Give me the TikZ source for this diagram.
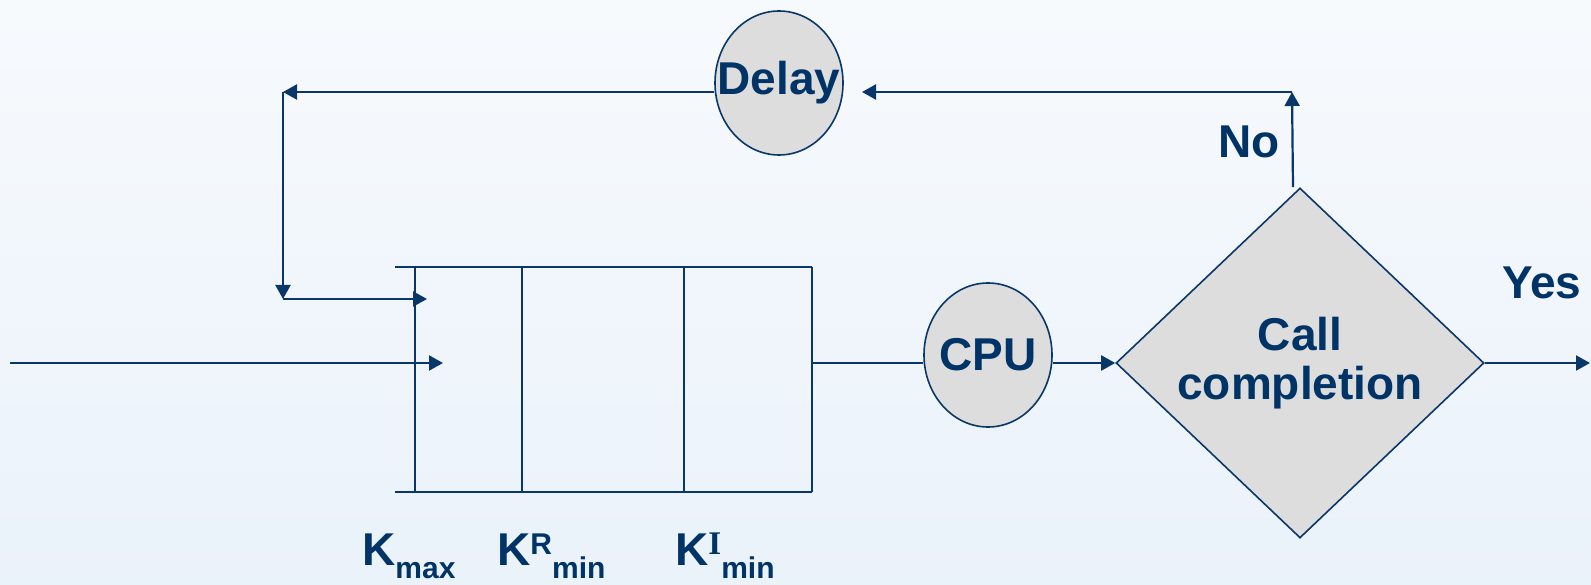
\documentclass[tikz,border=0pt]{standalone}
\usepackage{fontspec}
\setmainfont{Liberation Sans}
\newfontfamily\serifb{Liberation Serif}
\usetikzlibrary{arrows.meta,shapes.geometric,calc}
\definecolor{navy}{RGB}{0,51,102}
\definecolor{linec}{RGB}{10,55,105}
\definecolor{boxfill}{RGB}{221,221,221}
\definecolor{bgtop}{RGB}{247,250,253}
\definecolor{bgbot}{RGB}{234,242,250}
\tikzset{
  conn/.style={draw=linec, line width=2.2pt},
  arr/.style={conn, -{Triangle[length=14pt,width=15pt]}},
  qline/.style={draw=linec, line width=2.2pt},
  oval/.style={ellipse, draw=linec, line width=1.6pt, fill=boxfill, inner sep=0pt,
    minimum width=128pt, minimum height=144pt, text=navy,
    font=\fontsize{46}{49}\selectfont\bfseries},
  decision/.style={diamond, draw=linec, line width=1.6pt, fill=boxfill, inner sep=0pt,
    shape aspect=1.05, minimum width=368pt, minimum height=350pt, text=navy, align=center,
    font=\fontsize{46}{49}\selectfont\bfseries},
  lbl/.style={anchor=base west, inner sep=0pt, text=navy,
    font=\fontsize{46}{49}\selectfont\bfseries},
}
\newcommand{\sbig}[1]{{\fontsize{30}{30}\selectfont #1}}
\begin{document}
\begin{tikzpicture}[x=1pt,y=-1pt]
\shade[top color=bgtop, bottom color=bgbot] (0,0) rectangle (1591,585);
\useasboundingbox (0,0) rectangle (1591,585);

% nodes
\node[oval] (delay) at (779,83) {\makebox[0pt]{\raisebox{-4pt}{Delay}}};
\node[oval] (cpu) at (988,355) {\makebox[0pt]{CPU}};
\node[decision] (dec) at (1300,363) {\raisebox{-3pt}{Call}\\\raisebox{-3pt}{completion}};

% coordinates
\coordinate (in) at (10,363);
\coordinate (qin) at (443,363);
\coordinate (qout) at (812,363);
\coordinate (out) at (1590,363);
\coordinate (up) at (1292,92);
\coordinate (dr) at (862,92);
\coordinate (tl) at (283,92);
\coordinate (bl) at (283,299);
\coordinate (qfb) at (427,299);

% queue
\draw[qline] (395,267) -- (812,267);
\draw[qline] (395,492) -- (812,492);
\draw[qline] (415,267) -- (415,492);
\draw[qline] (522,267) -- (522,492);
\draw[qline] (684,267) -- (684,492);
\draw[qline] (812,267) -- (812,492);

% connectors
\draw[arr] (in) -- (qin);
\draw[conn] (qout) -- (cpu.west |- qout);
\draw[arr] (cpu.east |- dec.west) -- (dec.west);
\draw[arr] (dec.east) -- (out);
\draw[arr] ([xshift=-7pt]dec.north) -- (up);
\draw[arr] (up) -- (dr);
\draw[arr] (delay.west |- tl) -- (tl);
\draw[arr] (tl) -- (bl);
\draw[arr] (bl) -- (qfb);

% labels
\node[lbl] (no) at (1218,158) {No};
\node[lbl] (yes) at (1502,299) {Yes};
\node[lbl] (kmax) at (362,565) {K\raisebox{-13pt}{\sbig{max}}};
\node[lbl] (kr) at (497,565) {K\raisebox{11pt}{\sbig{R}}\raisebox{-13pt}{\sbig{min}}};
\node[lbl] (ki) at (675,565) {K\raisebox{11pt}{{\serifb\fontsize{33}{33}\selectfont I}}\raisebox{-13pt}{\sbig{min}}};
\end{tikzpicture}
\end{document}
